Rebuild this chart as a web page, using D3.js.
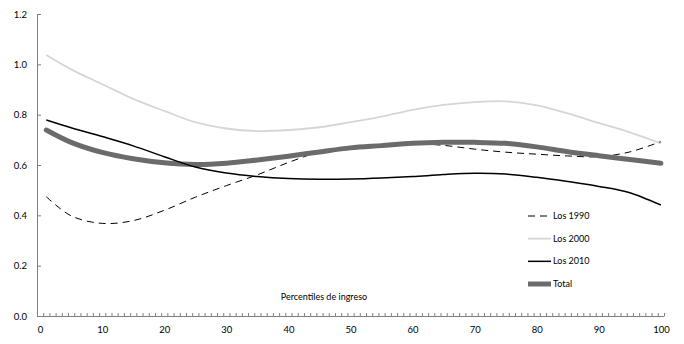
<!DOCTYPE html>
<html>
<head>
<meta charset="utf-8">
<script src="https://cdn.jsdelivr.net/npm/d3@7"></script>
<style>
  html, body { margin: 0; padding: 0; background: #fff; }
  svg text { font-family: Lato, "Open Sans", sans-serif; fill: #000; }
</style>
</head>
<body>
<svg id="chart" width="684" height="344"></svg>
<script>
const percentiles = [1, 5, 10, 15, 20, 25, 30, 35, 40, 45, 50, 55, 60, 65, 70, 75, 80, 85, 90, 95, 100];
const los1990 = [0.474, 0.398, 0.368, 0.379, 0.420, 0.472, 0.518, 0.561, 0.610, 0.652, 0.673, 0.681, 0.685, 0.678, 0.663, 0.651, 0.643, 0.636, 0.633, 0.652, 0.693];
const los2000 = [1.037, 0.980, 0.921, 0.863, 0.815, 0.770, 0.745, 0.735, 0.739, 0.750, 0.770, 0.792, 0.819, 0.839, 0.850, 0.853, 0.837, 0.805, 0.767, 0.730, 0.686];
const los2010 = [0.779, 0.748, 0.713, 0.676, 0.633, 0.592, 0.568, 0.554, 0.546, 0.543, 0.544, 0.548, 0.554, 0.562, 0.567, 0.564, 0.551, 0.534, 0.515, 0.490, 0.441];
const total   = [0.739, 0.690, 0.650, 0.625, 0.609, 0.602, 0.607, 0.620, 0.635, 0.652, 0.668, 0.677, 0.686, 0.690, 0.690, 0.686, 0.672, 0.653, 0.637, 0.622, 0.607];
const seriesNames = ["Los 1990", "Los 2000", "Los 2010", "Total"];
const xTickLabels = [0, 10, 20, 30, 40, 50, 60, 70, 80, 90, 100];
const yTickLabels = [0, 0.2, 0.4, 0.6, 0.8, 1.0, 1.2];
const xAxisTitle = "Percentiles de ingreso";

const svg = d3.select("#chart");
const x = d3.scaleLinear().domain([-0.5, 100.5]).range([37, 664]);
const y = d3.scaleLinear().domain([0, 1.2]).range([316, 14]);

const styles = {
  "Los 1990": { stroke: "#000", width: 1, dash: "7,5" },
  "Los 2000": { stroke: "#d6d6d6", width: 1.8, dash: null },
  "Los 2010": { stroke: "#000", width: 1.5, dash: null },
  "Total":    { stroke: "#6b6b6b", width: 5, dash: null }
};
const dataBySeries = { "Los 1990": los1990, "Los 2000": los2000, "Los 2010": los2010, "Total": total };

// Y axis
const yAxis = svg.append("g").attr("transform", `translate(${x.range()[0]},0)`)
  .call(d3.axisLeft(y).tickValues(yTickLabels).tickFormat(d3.format(".1f"))
    .tickSizeInner(-4).tickSizeOuter(0).tickPadding(10));
yAxis.select(".domain").attr("stroke", "#7f7f7f");
yAxis.selectAll(".tick line").attr("stroke", "#7f7f7f");
yAxis.selectAll("text").style("font-size", "9.5px");

// X axis: minor ticks at category boundaries
const xTicks = svg.append("g").attr("transform", `translate(0,${y(0)})`)
  .call(d3.axisBottom(x).tickValues(d3.range(-0.5, 101, 1)).tickFormat("")
    .tickSizeInner(-3).tickSizeOuter(0));
xTicks.select(".domain").attr("stroke", "#7f7f7f");
xTicks.selectAll(".tick line").attr("stroke", "#7f7f7f");

// X axis labels
const xLabels = svg.append("g").attr("transform", `translate(0,${y(0)})`)
  .call(d3.axisBottom(x).tickValues(xTickLabels).tickSize(0).tickPadding(10));
xLabels.select(".domain").remove();
xLabels.selectAll("text").style("font-size", "9.5px");

// Lines
const line = d3.line()
  .x((d, i) => x(percentiles[i]))
  .y(d => y(d))
  .curve(d3.curveCatmullRom.alpha(0.5));

["Los 2000", "Los 1990", "Total", "Los 2010"].forEach(name => {
  const s = styles[name];
  svg.append("path")
    .datum(dataBySeries[name])
    .attr("fill", "none")
    .attr("stroke", s.stroke)
    .attr("stroke-width", s.width)
    .attr("stroke-linecap", name === "Total" ? "round" : "butt")
    .attr("stroke-dasharray", s.dash)
    .attr("d", line);
});

// Axis title
svg.append("text")
  .attr("x", 324).attr("y", 300)
  .attr("text-anchor", "middle")
  .style("font-size", "9px")
  .text(xAxisTitle);

// Legend
const legendY = d3.scalePoint().domain(seriesNames).range([216, 284]);
const lg = svg.append("g");
seriesNames.forEach(name => {
  const s = styles[name];
  const yy = legendY(name);
  lg.append("line")
    .attr("x1", 528).attr("x2", 551).attr("y1", yy).attr("y2", yy)
    .attr("stroke", s.stroke)
    .attr("stroke-width", s.width)
    .attr("stroke-dasharray", s.dash);
  lg.append("text")
    .attr("x", 553).attr("y", yy).attr("dy", "0.35em")
    .style("font-size", "9px")
    .text(name);
});
</script>
</body>
</html>
